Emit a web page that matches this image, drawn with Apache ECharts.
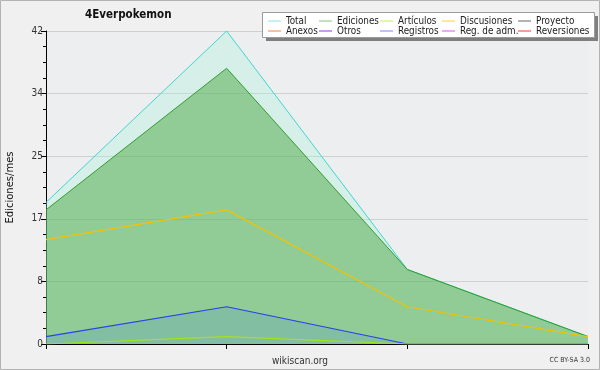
<!DOCTYPE html>
<html>
<head>
<meta charset="utf-8">
<script src="https://cdn.jsdelivr.net/npm/echarts@6/dist/echarts.min.js"></script>
<style>
html,body{margin:0;padding:0;background:#f0f0f0;}
#c{width:600px;height:370px;}
</style>
</head>
<body>
<div id="c"></div>
<script>
const categories = ['2021-01', '2021-02', '2021-03', '2021-04'];
const total = [19, 42, 10, 1];
const ediciones = [18, 37, 10, 1];
const articulos = [0, 1, 0, 0];
const discusiones = [14, 18, 5, 1];
const registros = [1, 5, 0, 0];
const proyecto = [];
const anexos = [];
const otros = [];
const regAdm = [];
const reversiones = [];
const yTicks = [0, 8, 17, 25, 34, 42];

const F = 'DejaVu Sans Condensed, DejaVu Sans, sans-serif';
const chart = echarts.init(document.getElementById('c'), null, {renderer: 'canvas'});

const legendItems = [
  ['Total', '#8fe3e0', 268, 19], ['Ediciones', '#7ec87e', 319, 19], ['Artículos', '#c3ef55', 380, 19], ['Discusiones', '#ffcf3a', 442, 19], ['Proyecto', '#666666', 518, 19],
  ['Anexos', '#ff8040', 268, 29], ['Otros', '#9035e0', 319, 29], ['Registros', '#8080ff', 380, 29], ['Reg. de adm.', '#e050f0', 442, 29], ['Reversiones', '#ff3535', 518, 29]
];

const option = {
  animation: false,
  backgroundColor: '#f0f0f0',
  title: {
    text: '4Everpokemon', left: 85, top: 9, padding: 0,
    textStyle: {fontFamily: F, fontSize: 11.5, fontWeight: 'bold', color: '#111'}
  },
  legend: legendItems.map(([n, col, x, y]) => ({
    data: [{name: n, icon: 'rect', itemStyle: {color: col, opacity: 1}}],
    left: x, top: y - 3, padding: 0, icon: 'rect', itemWidth: 13, itemHeight: 1, itemGap: 3,
    selectedMode: false, z: 10,
    itemStyle: {color: col},
    textStyle: {fontFamily: F, fontSize: 9.8, color: '#222'}
  })),
  graphic: [
    {type: 'rect', shape: {x: 0.5, y: 0.5, width: 599, height: 369}, style: {fill: 'none', stroke: '#b4b4b4', lineWidth: 1}, z: 0, silent: true},
    {type: 'rect', shape: {x: 266, y: 16, width: 332, height: 25}, style: {fill: '#7f7f7f'}, z: 1, silent: true},
    {type: 'rect', shape: {x: 262.5, y: 12.5, width: 332, height: 25}, style: {fill: '#ffffff', stroke: '#9a9a9a', lineWidth: 1}, z: 2, silent: true},
    {type: 'text', left: 'center', top: 356, style: {text: 'wikiscan.org', fontFamily: F, fontSize: 10, fill: '#333'}, z: 5},
    {type: 'text', right: 10, top: 357, style: {text: 'CC BY-SA 3.0', fontFamily: F, fontSize: 7, fill: '#333'}, z: 5}
  ],
  grid: {left: 46, right: 12, top: 31, bottom: 26, show: true, backgroundColor: '#edeef0', borderWidth: 0, containLabel: false, outerBoundsMode: 'none'},
  xAxis: {
    type: 'category', data: categories, boundaryGap: false,
    axisLine: {lineStyle: {color: '#000', width: 1}},
    axisTick: {show: true, length: 5, lineStyle: {color: '#000'}, alignWithLabel: true},
    axisLabel: {show: false},
    splitLine: {show: false}
  },
  yAxis: {
    type: 'value', min: 0, max: 42, interval: 8.4,
    name: 'Ediciones/mes', nameLocation: 'middle', nameGap: 31,
    nameTextStyle: {fontFamily: 'DejaVu Sans', fontSize: 10, color: '#111'},
    axisLine: {show: true, lineStyle: {color: '#000', width: 1}},
    axisTick: {show: true, length: 5, lineStyle: {color: '#000'}},
    minorTick: {show: true, splitNumber: 4, length: 3, lineStyle: {color: '#000'}},
    axisLabel: {fontFamily: F, fontSize: 10, color: '#333', margin: 3,
      formatter: v => String(yTicks[Math.round(v / 8.4)])},
    splitLine: {show: true, lineStyle: {color: '#cfcfcf', width: 1}}
  },
  series: [
    {name: 'Total', type: 'line', data: total, symbol: 'none', lineStyle: {color: '#3ed6d0', width: 1}, itemStyle: {color: '#3ed6d0'}, areaStyle: {color: 'rgba(165,246,218,0.32)', opacity: 1}, z: 2},
    {name: 'Ediciones', type: 'line', data: ediciones, symbol: 'none', lineStyle: {color: '#30a030', width: 1}, itemStyle: {color: '#30a030'}, areaStyle: {color: 'rgba(76,165,66,0.5)', opacity: 1}, z: 3},
    {name: 'Registros', type: 'line', data: registros, symbol: 'none', lineStyle: {color: '#2840f0', width: 1.2}, itemStyle: {color: '#2840f0'}, areaStyle: {color: 'rgba(93,163,193,0.3)', opacity: 1}, z: 4},
    {name: 'Discusiones', type: 'line', data: discusiones, symbol: 'none', lineStyle: {color: '#f2c200', width: 1.2}, itemStyle: {color: '#f2c200'}, z: 5},
    {name: 'Artículos', type: 'line', data: articulos, symbol: 'none', lineStyle: {color: '#a8e020', width: 1.2}, itemStyle: {color: '#a8e020'}, z: 6},
    {name: 'Proyecto', type: 'line', data: proyecto, symbol: 'none', itemStyle: {color: '#555'}},
    {name: 'Anexos', type: 'line', data: anexos, symbol: 'none', itemStyle: {color: '#ff7030'}},
    {name: 'Otros', type: 'line', data: otros, symbol: 'none', itemStyle: {color: '#8020e0'}},
    {name: 'Reg. de adm.', type: 'line', data: regAdm, symbol: 'none', itemStyle: {color: '#e040e0'}},
    {name: 'Reversiones', type: 'line', data: reversiones, symbol: 'none', itemStyle: {color: '#ff2020'}}
  ]
};
chart.setOption(option);
</script>
</body>
</html>
